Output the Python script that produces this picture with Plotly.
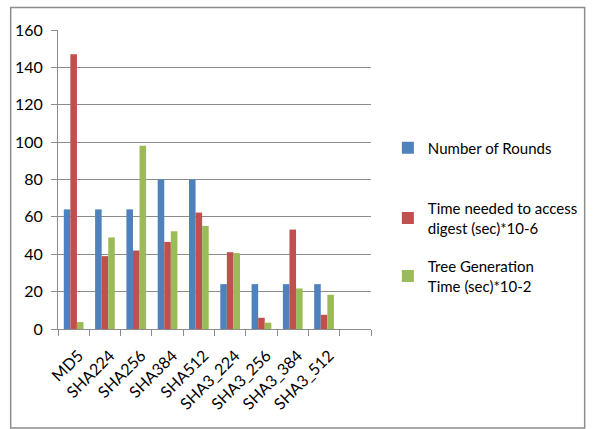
import plotly.graph_objects as go

categories = ["MD5", "SHA224", "SHA256", "SHA384", "SHA512",
              "SHA3_224", "SHA3_256", "SHA3_384", "SHA3_512"]
rounds = [64, 64, 64, 80, 80, 24, 24, 24, 24]
access_time = [147, 39, 42, 46.6, 62.3, 41.1, 6, 53.2, 7.6]
tree_time = [3.7, 49, 98, 52.3, 55.2, 40.6, 3.4, 21.7, 18.3]

series_names = ["Number of Rounds",
                "Time needed to access<br>digest (sec)*10-6",
                "Tree Generation<br>Time (sec)*10-2"]
series_colors = ["#4F81BD", "#C0504D", "#9BBB59"]
y_ticks = [0, 20, 40, 60, 80, 100, 120, 140, 160]

FONT = "Lato, Carlito, Liberation Sans, sans-serif"
GRID = "#8C8C8C"

# plot area in pixels: x 58..392, y 30..329
PX_L, PX_W, PX_B, PX_H = 58, 334, 329, 299


def px_x(px):
    return (px - PX_L) / PX_W


def px_y(py):
    return (PX_B - py) / PX_H


x_pos = list(range(len(categories)))
legend_ids = ["legend", "legend2", "legend3"]
legend_centers = [148, 218, 276]

fig = go.Figure()
for name, vals, col, lid in zip(series_names, [rounds, access_time, tree_time],
                                series_colors, legend_ids):
    fig.add_trace(go.Bar(x=x_pos, y=vals, name=name, marker_color=col,
                         marker_line_width=0, legend=lid))

legend_style = dict(xanchor="left", yanchor="middle", font=dict(size=15),
                    bgcolor="rgba(0,0,0,0)", borderwidth=0)
legend_layout = {lid: dict(x=px_x(410), y=px_y(cy), **legend_style)
                 for lid, cy in zip(legend_ids, legend_centers)}

fig.update_layout(
    width=595, height=429,
    margin=dict(l=PX_L, r=595 - PX_L - PX_W, t=PX_B - PX_H, b=429 - PX_B),
    paper_bgcolor="white", plot_bgcolor="white",
    barmode="group", bargap=0.37, bargroupgap=0,
    font=dict(family=FONT, size=15, color="#000000"),
    showlegend=True,
    xaxis=dict(range=[-0.5, 9.5], tickvals=x_pos, ticktext=categories,
               tickangle=-45, ticks="", showgrid=False, zeroline=False,
               showline=True, linecolor=GRID, linewidth=1,
               tickfont=dict(size=16), ticklabelstandoff=10, ticklabelshift=5,
               minor=dict(tick0=-0.5, dtick=1, ticks="outside", ticklen=6,
                          tickcolor=GRID, showgrid=False)),
    yaxis=dict(range=[0, 160], tickvals=y_ticks, showgrid=True, gridcolor=GRID,
               gridwidth=1, zeroline=False, showline=True, linecolor=GRID,
               ticks="outside", ticklen=6, tickcolor=GRID,
               tickfont=dict(size=16), ticklabelstandoff=5),
    **legend_layout,
)

# chart frame (right edge runs past the page)
fig.add_shape(type="rect", xref="paper", yref="paper",
              x0=px_x(7.5), x1=px_x(620), y0=px_y(428), y1=px_y(7.5),
              line=dict(color="#8C8C8C", width=1.5), fillcolor="rgba(0,0,0,0)",
              layer="below")

fig.write_html("out.html")
